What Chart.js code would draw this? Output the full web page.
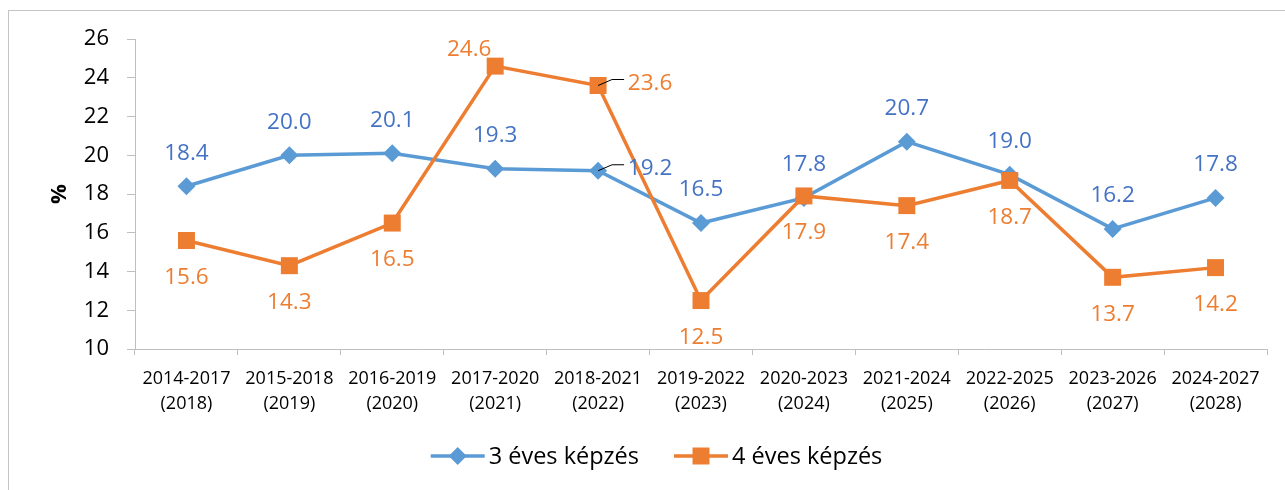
<!DOCTYPE html>
<html>
<head>
<meta charset="utf-8">
<script src="https://cdn.jsdelivr.net/npm/chart.js@4/dist/chart.umd.min.js"></script>
<style>
  html, body { margin: 0; padding: 0; background: #fff; overflow: hidden; }
  #wrap { position: relative; width: 1285px; height: 490px; }
  #frame { position: absolute; left: 8px; top: 10px; width: 1300px; height: 500px;
           border-left: 1px solid #c4c4c4; border-top: 1px solid #c4c4c4; }
  #chart { position: absolute; left: 0; top: 0; }
</style>
</head>
<body>
<div id="wrap">
  <div id="frame"></div>
  <canvas id="chart" width="1285" height="490"></canvas>
</div>
<script>
// ============================================================
// Data
// ============================================================

const periods = ['2014-2017', '2015-2018', '2016-2019', '2017-2020', '2018-2021', '2019-2022',
                 '2020-2023', '2021-2024', '2022-2025', '2023-2026', '2024-2027']
const finishYears = ['(2018)', '(2019)', '(2020)', '(2021)', '(2022)', '(2023)',
                     '(2024)', '(2025)', '(2026)', '(2027)', '(2028)']

const threeYear = [18.4, 20.0, 20.1, 19.3, 19.2, 16.5, 17.8, 20.7, 19.0, 16.2, 17.8]
const fourYear  = [15.6, 14.3, 16.5, 24.6, 23.6, 12.5, 17.9, 17.4, 18.7, 13.7, 14.2]

const seriesNames = ['3 éves képzés', '4 éves képzés']
const yTicks = [10, 12, 14, 16, 18, 20, 22, 24, 26]

// label placement per point
const threeYearLabelPos = ['top', 'top', 'top', 'top', 'right', 'top', 'top', 'top', 'top', 'top', 'top']
const fourYearLabelPos  = ['bottom', 'bottom', 'bottom', 'topleft', 'right', 'bottom', 'bottom', 'bottom', 'bottom', 'bottom', 'bottom']

// ============================================================
// Colors / fonts
// ============================================================

const COLORS = {
  blueLine:  '#5b9bd5',
  blueText:  '#4472c4',
  orange:    '#ed7d31',
  axis:      '#bfbfbf',
  text:      '#000000'
}
const FONT = "'Open Sans', sans-serif"

// ============================================================
// Plugins: data labels + legend with line/marker
// ============================================================

const LABEL_OFFSETS = {
  top:     { dx: 0,   dy: -33 },
  bottom:  { dx: 0,   dy: 37 },
  topleft: { dx: -26, dy: -17 },
  right:   { dx: 52,  dy: -2 }
}

const dataLabels = {
  id: 'dataLabels',
  afterDatasetsDraw(chart) {
    const ctx = chart.ctx
    ctx.save()
    ctx.font = `22.5px ${FONT}`
    ctx.textAlign = 'center'
    ctx.textBaseline = 'middle'
    chart.data.datasets.forEach((ds, di) => {
      const meta = chart.getDatasetMeta(di)
      meta.data.forEach((pt, i) => {
        const pos = ds.labelPos[i]
        const off = LABEL_OFFSETS[pos]
        if (pos === 'right') {
          // small leader line
          ctx.strokeStyle = '#000'
          ctx.lineWidth = 1
          ctx.beginPath()
          ctx.moveTo(pt.x, pt.y)
          ctx.lineTo(pt.x + 14, pt.y - 6)
          ctx.lineTo(pt.x + 26, pt.y - 6)
          ctx.stroke()
        }
        ctx.fillStyle = ds.labelColor
        ctx.fillText(ds.data[i].toFixed(1), pt.x + off.dx, pt.y + off.dy)
      })
    })
    ctx.restore()
  }
}

function drawMarker(ctx, style, x, y, r, color) {
  ctx.fillStyle = color
  ctx.beginPath()
  if (style === 'rectRot') {
    ctx.moveTo(x - r, y); ctx.lineTo(x, y - r); ctx.lineTo(x + r, y); ctx.lineTo(x, y + r)
  } else {
    const s = r * Math.SQRT1_2
    ctx.rect(x - s, y - s, 2 * s, 2 * s)
  }
  ctx.closePath()
  ctx.fill()
}

const lineLegend = {
  id: 'lineLegend',
  afterDraw(chart) {
    const ctx = chart.ctx
    const lineLen = 54, textGap = 4, itemGap = 35
    ctx.save()
    ctx.font = `23.5px ${FONT}`
    ctx.textBaseline = 'middle'
    const items = chart.data.datasets.map(ds => ({ ds, w: lineLen + textGap + ctx.measureText(ds.label).width }))
    const total = items.reduce((s, it) => s + it.w, 0) + itemGap * (items.length - 1)
    const centerX = (chart.options.layout.padding.left + chart.width) / 2
    const y = 456
    let x = centerX - total / 2
    items.forEach(({ ds, w }) => {
      ctx.strokeStyle = ds.borderColor
      ctx.lineWidth = ds.borderWidth
      ctx.beginPath()
      ctx.moveTo(x, y)
      ctx.lineTo(x + lineLen, y)
      ctx.stroke()
      drawMarker(ctx, ds.pointStyle, x + lineLen / 2, y, ds.pointRadius, ds.borderColor)
      ctx.fillStyle = COLORS.text
      ctx.fillText(ds.label, x + lineLen + textGap, y + 1)
      x += w + itemGap
    })
    ctx.restore()
  }
}

// ============================================================
// Chart
// ============================================================

new Chart(document.getElementById('chart'), {
  type: 'line',
  data: {
    labels: periods.map((p, i) => [p, finishYears[i]]),
    datasets: [
      {
        label: seriesNames[0],
        data: threeYear,
        labelPos: threeYearLabelPos,
        labelColor: COLORS.blueText,
        borderColor: COLORS.blueLine,
        backgroundColor: COLORS.blueLine,
        borderWidth: 3.5,
        pointStyle: 'rectRot',
        pointRadius: 9,
        pointBorderWidth: 0,
        tension: 0,
        order: 1
      },
      {
        label: seriesNames[1],
        data: fourYear,
        labelPos: fourYearLabelPos,
        labelColor: COLORS.orange,
        borderColor: COLORS.orange,
        backgroundColor: COLORS.orange,
        borderWidth: 3.5,
        pointStyle: 'rect',
        pointRadius: 12,
        pointBorderWidth: 0,
        tension: 0,
        order: 0
      }
    ]
  },
  options: {
    responsive: false,
    animation: false,
    layout: { padding: { left: 28, right: 18, top: 39, bottom: 0 } },
    plugins: {
      legend: { display: false },
      tooltip: { enabled: false }
    },
    scales: {
      x: {
        offset: true,
        grid: { offset: true, drawOnChartArea: false, color: COLORS.axis, tickLength: 6 },
        border: { color: COLORS.axis, width: 1 },
        ticks: {
          color: COLORS.text,
          font: { family: FONT, size: 18, lineHeight: 1.39 },
          padding: 11,
          maxRotation: 0,
          autoSkip: false
        },
        afterFit: scale => { scale.height = 141 }
      },
      y: {
        min: 10,
        max: 26,
        afterBuildTicks: scale => { scale.ticks = yTicks.map(v => ({ value: v })) },
        grid: { drawOnChartArea: false, color: COLORS.axis, tickLength: 8 },
        border: { color: COLORS.axis, width: 1 },
        ticks: {
          color: COLORS.text,
          font: { family: FONT, size: 22 },
          padding: 18
        },
        title: {
          display: true,
          text: '%',
          color: COLORS.text,
          font: { family: FONT, size: 22, weight: 'bold' },
          padding: { top: 19, bottom: 0 }
        },
        afterFit: scale => { scale.width = 107 }
      }
    }
  },
  plugins: [dataLabels, lineLegend]
})
</script>
</body>
</html>
